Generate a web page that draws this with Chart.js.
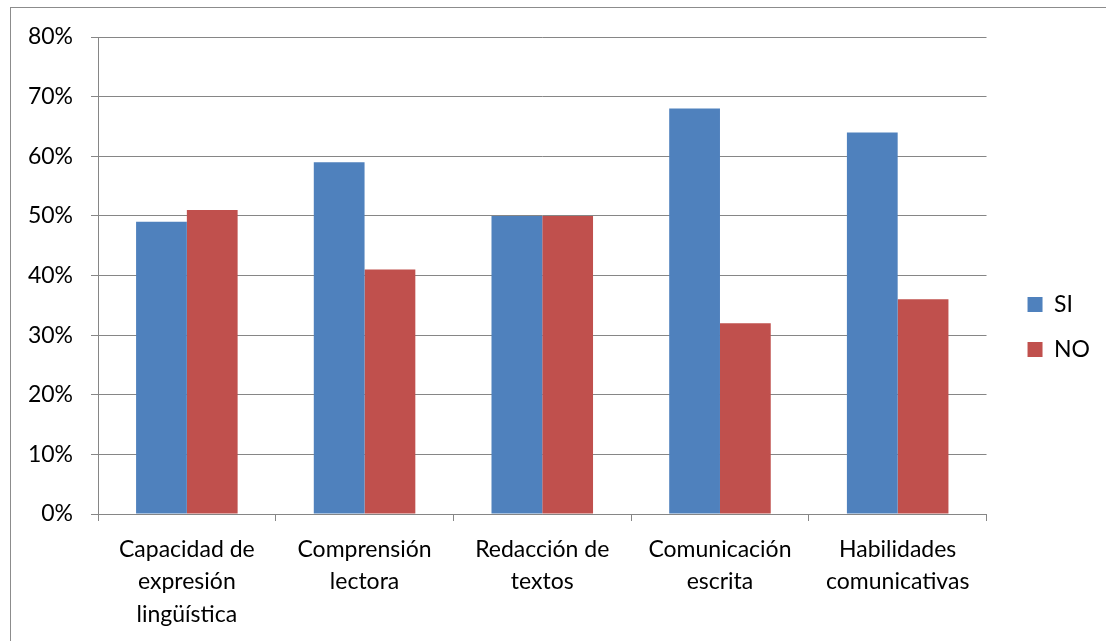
<!DOCTYPE html>
<html>
<head>
<meta charset="utf-8">
<script src="https://cdn.jsdelivr.net/npm/chart.js@4.4.0/dist/chart.umd.min.js"></script>
<style>
  html, body { margin: 0; padding: 0; background: #fff; overflow: hidden; }
  #frame { position: absolute; left: 10px; top: 7px; width: 1200px; height: 700px; border: 1px solid #8c8c8c; }
  #wrap { position: absolute; left: 0; top: 0; width: 1106px; height: 641px; }
</style>
</head>
<body>
<div id="frame"></div>
<div id="wrap"><canvas id="skillsChart"></canvas></div>
<script>
const categories = [
    ['Capacidad de', 'expresión', 'lingüística'],
    ['Comprensión', 'lectora'],
    ['Redacción de', 'textos'],
    ['Comunicación', 'escrita'],
    ['Habilidades', 'comunicativas']
];
const seriesNames = ['SI', 'NO'];
const siValues = [0.49, 0.59, 0.50, 0.68, 0.64];
const noValues = [0.51, 0.41, 0.50, 0.32, 0.36];
const yTicks = [0, 0.1, 0.2, 0.3, 0.4, 0.5, 0.6, 0.7, 0.8];

const axisGray = '#868686';
const fontFamily = "Lato, 'Open Sans', sans-serif";

Chart.defaults.color = '#000';
Chart.defaults.font.family = fontFamily;
Chart.defaults.font.size = 23;

// invisible scale used only to reserve space
const spacer = (position, size) => ({
    type: 'linear',
    position: position,
    display: true,
    grid: { display: false },
    ticks: { display: false },
    border: { display: false },
    afterFit: (scale) => {
        if (position === 'top') scale.height = size; else scale.width = size;
    }
});

new Chart(document.getElementById('skillsChart').getContext('2d'), {
    type: 'bar',
    data: {
        labels: categories,
        datasets: [
            { label: seriesNames[0], data: siValues, backgroundColor: '#4F81BD', xAxisID: 'x', yAxisID: 'y' },
            { label: seriesNames[1], data: noValues, backgroundColor: '#C0504D', xAxisID: 'x', yAxisID: 'y' }
        ]
    },
    options: {
        responsive: true,
        maintainAspectRatio: false,
        animation: false,
        categoryPercentage: 2 / 3.5,
        barPercentage: 1,
        layout: { padding: { left: 10, top: 23, right: 6, bottom: 10 } },
        plugins: {
            legend: {
                position: 'right',
                labels: { boxWidth: 15, boxHeight: 15, padding: 22, color: '#000', font: { size: 23 } }
            },
            tooltip: { enabled: false }
        },
        scales: {
            x: {
                afterFit: (scale) => { scale.height = 117; },
                grid: { display: true, drawOnChartArea: false, offset: true, color: axisGray, tickLength: 7 },
                border: { display: true, color: axisGray },
                ticks: { padding: 12, color: '#000', maxRotation: 0, font: { size: 23, lineHeight: 1.413 } }
            },
            y: {
                min: 0,
                max: 0.8,
                afterBuildTicks: (axis) => { axis.ticks = yTicks.map(v => ({ value: v })); },
                afterFit: (scale) => { scale.width = 88; },
                ticks: {
                    padding: 18,
                    color: '#000',
                    callback: (v) => Math.round(v * 100) + '%'
                },
                grid: { color: axisGray, tickLength: 7, lineWidth: 1 },
                border: { display: true, color: axisGray }
            },
            spacerRight: spacer('right', 19),
            spacerTop: spacer('top', 14)
        }
    }
});
</script>
</body>
</html>
